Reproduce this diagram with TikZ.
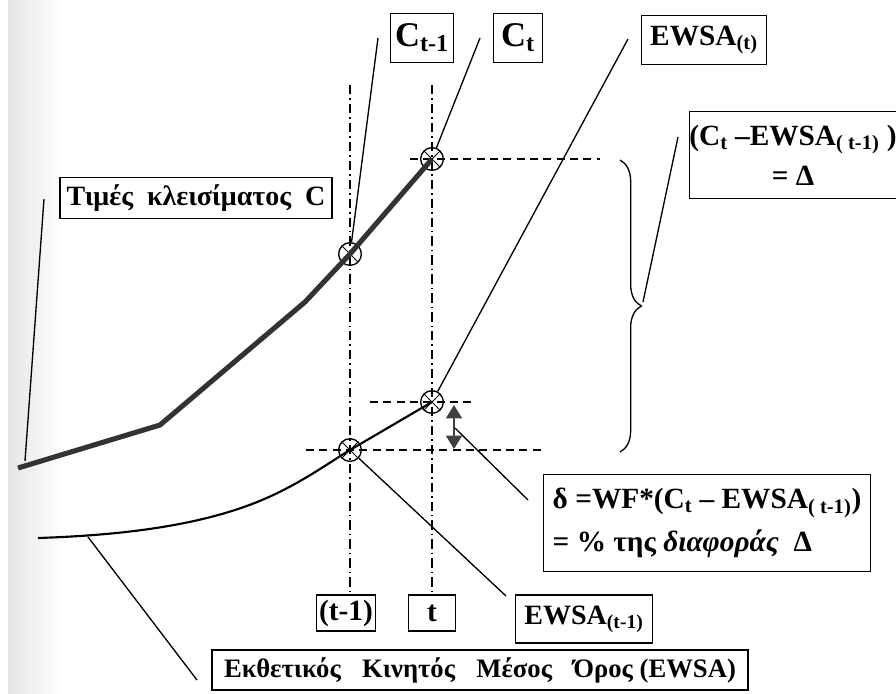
\documentclass[tikz,border=0pt]{standalone}
\usepackage{fontspec}
\setmainfont{Liberation Serif}
\usetikzlibrary{arrows.meta,decorations.pathreplacing}

\tikzset{every picture/.style={line width=0.75pt}}
\tikzset{
  labelbox/.style={draw, line width=1.1pt, inner sep=0pt, align=center},
  leader/.style={line width=1pt},
  gridline/.style={line width=1pt, dash pattern=on 7pt off 3pt on 1.2pt off 3pt},
  guide/.style={line width=1pt, dash pattern=on 6pt off 4pt},
  crossmark/.style={circle, draw, line width=1pt, minimum size=17pt, inner sep=0pt,
    path picture={\draw[line width=0.6pt] (path picture bounding box.south west) -- (path picture bounding box.north east)
      (path picture bounding box.north west) -- (path picture bounding box.south east);}},
}

\begin{document}
\begin{tikzpicture}[x=0.75pt,y=0.75pt,yscale=-1,xscale=1]
\useasboundingbox (0,0) rectangle (896,693);
\shade[left color=black!10, right color=white] (8,0) rectangle (65,693);

%Shape: Circle marks
\node[crossmark] (cprev) at (350,254) {};
\node[crossmark] (ccur) at (432,159) {};
\node[crossmark] (eprev) at (350,450) {};
\node[crossmark] (ecur) at (432,402) {};

% Text Node
\node[labelbox, minimum width=47pt, minimum height=37pt, font=\bfseries\fontsize{26}{30}\selectfont] (lblcprev) at (422,38) {C\textsubscript{t-1}};
% Text Node
\node[labelbox, minimum width=37pt, minimum height=37pt, font=\bfseries\fontsize{26}{30}\selectfont] (lblccur) at (518,38) {C\textsubscript{t}};
% Text Node
\node[labelbox, minimum width=94pt, minimum height=37pt, font=\bfseries\fontsize{22}{25}\selectfont] (lblecur) at (704,40) {EWSA\textsubscript{(t)}};
% Text Node
\node[labelbox, minimum width=150pt, minimum height=65pt, font=\bfseries\fontsize{22}{30}\selectfont] (lbldelta) at (793,155) {(C\textsubscript{t} –EWSA\textsubscript{( t-1)} )\\= Δ};
% Text Node
\node[labelbox, minimum width=204pt, minimum height=31pt, font=\bfseries\fontsize{21}{24}\selectfont] (lblclose) at (196,198) {Τιμές\ \ κλεισίματος\ \ C};
% Text Node
\node[labelbox, minimum width=245pt, minimum height=73pt, align=left, font=\bfseries\fontsize{22}{32}\selectfont] (lblstep) at (707,523) {δ =WF*(C\textsubscript{t} – EWSA\textsubscript{( t-1)})\\ = \% της \textit{διαφοράς}\ \ Δ};
% Text Node
\node[labelbox, minimum width=44pt, minimum height=27pt, font=\bfseries\fontsize{22}{25}\selectfont] (tprev) at (346,613) {(t-1)};
% Text Node
\node[labelbox, minimum width=35pt, minimum height=27pt, font=\bfseries\fontsize{22}{25}\selectfont] (tcur) at (432,613) {t};
% Text Node
\node[labelbox, minimum width=103pt, minimum height=36pt, font=\bfseries\fontsize{21}{25}\selectfont] (lbleprev) at (584,619) {EWSA\textsubscript{(t-1)}};
% Text Node
\node[labelbox, minimum width=402pt, minimum height=30pt, font=\bfseries\fontsize{20}{24}\selectfont] (lblewsa) at (480,670) {Εκθετικός\hspace{16pt}Κινητός\hspace{16pt}Μέσος\hspace{16pt}Όρος (EWSA)};

%Straight Lines: time grid
\coordinate (gprev) at (350,85);
\coordinate (gcur) at (432,85);
\draw[gridline] (gprev) -- (gprev |- tprev.north);
\draw[gridline] (gcur) -- (gcur |- tcur.north);

%Straight Lines: level guides
\draw[guide] (410,159) -- (600,159);
\draw[guide] (370,402) -- (476,402);
\draw[guide] (306,450) -- (545,450);

%Curve: closing prices
\draw[line width=3.8pt, color=black!80, line join=round] (18,468) -- (160,425) -- (305,302) -- (cprev.center) -- (ccur.center);
%Curve: EWSA
\draw[line width=1.6pt] (38,538) .. controls (130,535) and (205,524) .. (262,500) .. controls (300,484) and (330,462) .. (eprev.center) -- (ecur.center);

%Brace
\draw[line width=1pt, decorate, decoration={brace, amplitude=16pt}] (620,160) -- (620,452);
\coordinate (bracetip) at (643,302);

%Double arrow
\coordinate (arrtop) at (454,405);
\coordinate (arrbot) at (454,449);
\draw[{Triangle[length=10pt,width=12pt]}-{Triangle[length=10pt,width=12pt]}, line width=1pt, color=black!75] (arrtop) -- (arrbot);

%Straight Lines: leaders
\coordinate (lcprev) at (378,38);
\coordinate (lccur) at (480,38);
\coordinate (lecur) at (628,39);
\coordinate (ldelta) at (678,137);
\coordinate (lclose) at (44,199);
\coordinate (lclosee) at (25,461);
\coordinate (larr) at (455,428);
\coordinate (lstep) at (528,500);
\coordinate (leprev) at (506,596);
\coordinate (lewsa) at (88,537);
\coordinate (lewsae) at (197,680);
\draw[leader] (lcprev) -- (cprev);
\draw[leader] (lccur) -- (ccur);
\draw[leader] (lecur) -- (ecur);
\draw[leader] (ldelta) -- (bracetip);
\draw[leader] (lclose) -- (lclosee);
\draw[leader] (larr) -- (lstep);
\draw[leader] (eprev) -- (leprev);
\draw[leader] (lewsa) -- (lewsae);

\end{tikzpicture}
\end{document}
